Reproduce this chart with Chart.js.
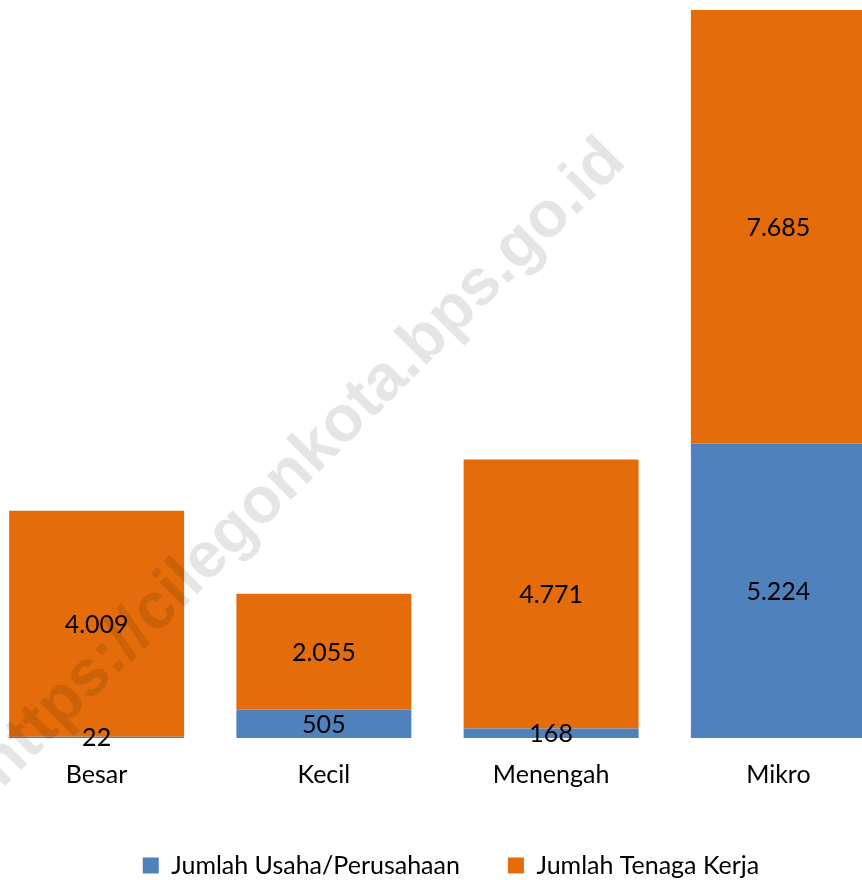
<!DOCTYPE html>
<html>
<head>
<meta charset="utf-8">
<script src="https://cdn.jsdelivr.net/npm/chart.js@4.4.0/dist/chart.umd.min.js"></script>
<style>
  html, body { margin: 0; padding: 0; background: #fff; overflow: hidden; width: 862px; height: 880px; }
  #wrap { position: absolute; left: -17px; top: 0; }
</style>
</head>
<body>
<div id="wrap"><canvas id="chart" width="936" height="888"></canvas></div>
<script>
// data
const categories = ['Besar', 'Kecil', 'Menengah', 'Mikro'];
const usahaValues = [22, 505, 168, 5224];
const tenagaKerjaValues = [4009, 2055, 4771, 7685];
const seriesNames = ['Jumlah Usaha/Perusahaan', 'Jumlah Tenaga Kerja'];
const watermarkText = 'https://cilegonkota.bps.go.id';

const FONT = 'Lato, Carlito, Calibri, sans-serif';

// the plot is cut right at the top of the tallest stack
const yMax = Math.max(...categories.map((c, i) => usahaValues[i] + tenagaKerjaValues[i]));

function fmt(v) {
    return String(v).replace(/\B(?=(\d{3})+(?!\d))/g, '.');
}

// watermark + value labels in the middle of each segment
const labelPlugin = {
    id: 'segmentLabels',
    afterDatasetsDraw(chart) {
        const ctx = chart.ctx;
        ctx.save();
        ctx.translate(19, 789);
        ctx.rotate(-Math.PI / 4);
        ctx.font = 'bold 65px "Liberation Sans", Arial, sans-serif';
        ctx.fillStyle = 'rgba(0,0,0,0.1)';
        ctx.textAlign = 'left';
        ctx.textBaseline = 'alphabetic';
        ctx.fillText(watermarkText, 0, 0);
        ctx.restore();

        ctx.save();
        ctx.font = '25px ' + FONT;
        ctx.fillStyle = '#000';
        ctx.textAlign = 'center';
        ctx.textBaseline = 'middle';
        chart.data.datasets.forEach((ds, di) => {
            chart.getDatasetMeta(di).data.forEach((bar, i) => {
                ctx.fillText(fmt(ds.data[i]), bar.x, (bar.y + bar.base) / 2 + 1);
            });
        });
        ctx.restore();
    }
};

new Chart(document.getElementById('chart'), {
    type: 'bar',
    data: {
        labels: categories,
        datasets: [
            { label: seriesNames[0], data: usahaValues, backgroundColor: '#4F81BD', borderWidth: 0 },
            { label: seriesNames[1], data: tenagaKerjaValues, backgroundColor: '#E46C0A', borderWidth: 0 }
        ]
    },
    options: {
        responsive: false,
        animation: false,
        devicePixelRatio: 1,
        barPercentage: 0.77,
        categoryPercentage: 1,
        layout: { padding: { top: 10, left: 0, right: 0, bottom: 0 } },
        scales: {
            x: {
                stacked: true,
                grid: { display: false },
                border: { display: false },
                ticks: { color: '#000', font: { family: FONT, size: 25 }, padding: 14 },
                afterFit(scale) { scale.height = 67; }
            },
            y: {
                stacked: true,
                position: 'right',
                min: 0,
                max: yMax,
                grid: { display: false },
                border: { display: false },
                ticks: { display: false },
                afterFit(scale) { scale.width = 27; }
            }
        },
        plugins: {
            legend: {
                position: 'bottom',
                labels: {
                    boxWidth: 16,
                    boxHeight: 16,
                    padding: 48,
                    color: '#000',
                    font: { family: FONT, size: 25 }
                }
            },
            tooltip: { enabled: false }
        }
    },
    plugins: [labelPlugin]
});
</script>
</body>
</html>
